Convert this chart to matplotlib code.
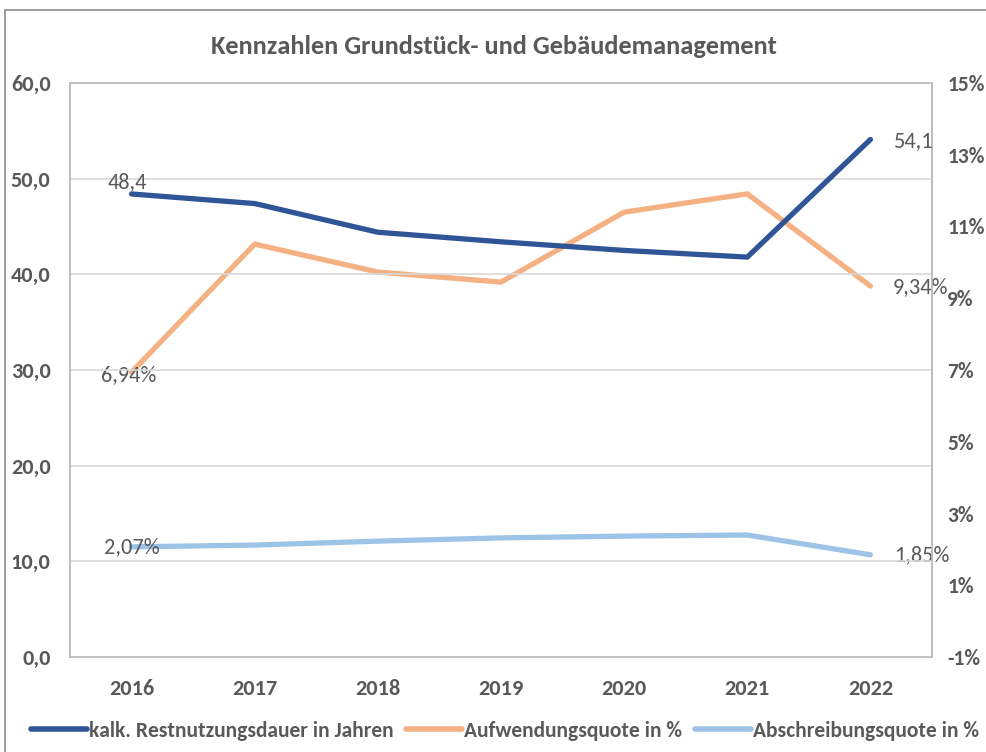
import matplotlib
matplotlib.use("Agg")
import matplotlib.pyplot as plt
from matplotlib.patches import Rectangle
from matplotlib.lines import Line2D

plt.rcParams['font.family'] = ['Carlito', 'Lato', 'DejaVu Sans']
BOLD = ['Carlito', 'Roboto', 'DejaVu Sans']

years = ["2016", "2017", "2018", "2019", "2020", "2021", "2022"]
restnutzung = [48.4, 47.4, 44.4, 43.4, 42.5, 41.8, 54.1]
aufwendung = [6.94, 10.51, 9.73, 9.45, 11.40, 11.91, 9.34]
abschreibung = [2.07, 2.12, 2.23, 2.32, 2.37, 2.40, 1.85]
left_ticks = [0, 10, 20, 30, 40, 50, 60]
right_ticks = [-1, 1, 3, 5, 7, 9, 11, 13, 15]

c_dark = "#2F5597"
c_orange = "#F4B183"
c_light = "#9DC3E6"
txt = "#595959"

fig = plt.figure(figsize=(9.87, 7.52), dpi=100)
fig.add_artist(Rectangle((5/987, -0.05), 1.1, 1 - 10/752 + 0.05, transform=fig.transFigure,
                         fill=False, edgecolor="#8c8c8c", linewidth=1.2))

ax = fig.add_axes([70/987, 1 - 657/752, (932 - 70)/987, (657 - 83)/752])
ax2 = ax.twinx()
x = list(range(len(years)))

ax.set_ylim(0, 60)
ax.set_xlim(-0.5, len(years) - 0.5)
ax2.set_ylim(-1, 15)
ax.set_yticks(left_ticks)
ax.set_yticklabels([f"{v:.1f}".replace(".", ",") for v in left_ticks])
ax2.set_yticks(right_ticks)
ax2.set_yticklabels([f"{v}%" for v in right_ticks])
ax.set_xticks(x)
ax.set_xticklabels(years)
ax.grid(axis="y", color="#d9d9d9", linewidth=1.2)
ax.set_axisbelow(True)

for a in (ax, ax2):
    for s in a.spines.values():
        s.set_color("#bfbfbf")
        s.set_linewidth(1.2)
    a.tick_params(length=0, labelcolor=txt)
    for lab in a.get_yticklabels() + a.get_xticklabels():
        lab.set_fontweight("bold")
        lab.set_family(BOLD)
        lab.set_fontsize(16)
for lab in ax2.get_yticklabels():
    lab.set_fontsize(15.5)
ax2.spines["right"].set_color("#a6a6a6")
ax.tick_params(axis="y", pad=14)
ax2.tick_params(axis="y", pad=11)
ax.tick_params(axis="x", pad=16)

ax2.plot(x, aufwendung, color=c_orange, linewidth=3.8, solid_capstyle="round", zorder=2)
ax2.plot(x, abschreibung, color=c_light, linewidth=3.8, solid_capstyle="round", zorder=2)
ax.set_zorder(ax2.get_zorder() + 1)
ax.patch.set_visible(False)
ax.plot(x, restnutzung, color=c_dark, linewidth=3.8, solid_capstyle="round", zorder=3)

def fmt(v, pct=False):
    s = f"{v:.2f}%" if pct else f"{v:.1f}"
    return s.replace(".", ",")

FS = 16
ax.annotate(fmt(restnutzung[0]), (x[0], restnutzung[0]), xytext=(-3, 1), textcoords="offset points",
            ha="center", va="bottom", fontsize=FS, color=txt)
ax.annotate(fmt(restnutzung[-1]), (x[-1], restnutzung[-1]), xytext=(17, -1), textcoords="offset points",
            ha="left", va="center", fontsize=FS, color=txt)
ax2.annotate(fmt(aufwendung[0], True), (x[0], aufwendung[0]), xytext=(-2, -2), textcoords="offset points",
             ha="center", va="center", fontsize=FS, color=txt)
ax2.annotate(fmt(aufwendung[-1], True), (x[-1], aufwendung[-1]), xytext=(16, -1), textcoords="offset points",
             ha="left", va="center", fontsize=FS, color=txt)
ax2.annotate(fmt(abschreibung[0], True), (x[0], abschreibung[0]), xytext=(0, 0), textcoords="offset points",
             ha="center", va="center", fontsize=FS, color=txt)
ax2.annotate(fmt(abschreibung[-1], True), (x[-1], abschreibung[-1]), xytext=(17, 0), textcoords="offset points",
             ha="left", va="center", fontsize=FS, color=txt)

fig.text(0.5, 1 - 47/752, "Kennzahlen Grundstück- und Gebäudemanagement", ha="center", va="center",
         fontsize=19, fontweight="bold", color=txt, family=BOLD)

handles = [Line2D([], [], color=c_dark, linewidth=4, solid_capstyle="round"),
           Line2D([], [], color=c_orange, linewidth=4, solid_capstyle="round"),
           Line2D([], [], color=c_light, linewidth=4, solid_capstyle="round")]
labels = ["kalk. Restnutzungsdauer in Jahren", "Aufwendungsquote in %", "Abschreibungsquote in %"]
leg = fig.legend(handles, labels, loc="center", bbox_to_anchor=(505/987, 1 - 731/752), ncol=3,
                 frameon=False, handlelength=2.6, handletextpad=0.1, columnspacing=0.6,
                 prop={'family': BOLD, 'weight': 'bold', 'size': 15.5})
for t in leg.get_texts():
    t.set_color(txt)

fig.savefig("out.png", dpi=100)
